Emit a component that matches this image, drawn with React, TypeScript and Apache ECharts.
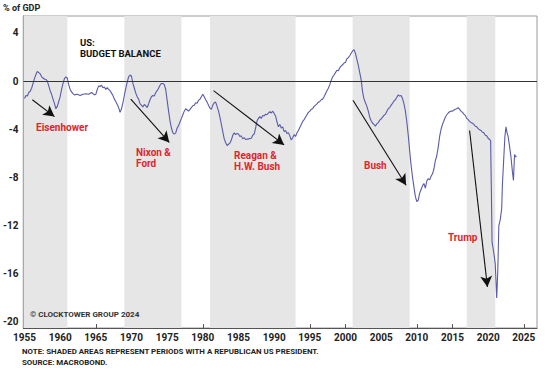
import React, { useEffect, useRef } from "react";
import * as echarts from "echarts";

const balance: [number, number][] = [
  [1955.0, -1.45], [1955.2, -1.2], [1955.4, -1.25], [1955.6, -0.95], [1955.8, -0.85],
  [1956.0, -0.6], [1956.2, -0.2], [1956.4, 0.2], [1956.6, 0.55], [1956.8, 0.8],
  [1957.0, 0.7], [1957.2, 0.6], [1957.4, 0.35], [1957.6, 0.25], [1957.8, 0.15],
  [1958.0, 0.15], [1958.2, 0.0], [1958.4, -0.4], [1958.6, -0.8], [1958.8, -1.1],
  [1959.0, -1.5], [1959.2, -1.85], [1959.4, -2.3], [1959.6, -2.1], [1959.8, -1.7],
  [1960.0, -1.3], [1960.2, -0.7], [1960.4, -0.2], [1960.6, 0.2], [1960.8, 0.35],
  [1961.0, 0.25], [1961.2, -0.3], [1961.4, -0.7], [1961.6, -0.9], [1961.8, -1.05],
  [1962.0, -1.15], [1962.4, -1.1], [1962.8, -1.2], [1963.2, -1.1], [1963.6, -1.05],
  [1964.0, -1.1], [1964.4, -0.95], [1964.8, -1.15], [1965.0, -1.1], [1965.2, -0.7],
  [1965.4, -0.4], [1965.6, -0.45], [1965.8, -0.35], [1966.0, -0.55], [1966.2, -0.5],
  [1966.4, -0.7], [1966.6, -0.55], [1966.8, -0.7], [1967.0, -0.8], [1967.2, -1.0],
  [1967.4, -1.2], [1967.6, -1.5], [1967.8, -1.7], [1968.0, -1.95], [1968.2, -2.2],
  [1968.4, -2.6], [1968.6, -2.3], [1968.8, -1.8], [1969.0, -1.2], [1969.2, -0.6],
  [1969.4, -0.1], [1969.6, 0.35], [1969.8, 0.5], [1970.0, 0.4], [1970.2, -0.2],
  [1970.4, -0.6], [1970.6, -1.0], [1970.8, -1.3], [1971.0, -1.5], [1971.2, -1.9],
  [1971.4, -2.0], [1971.6, -2.15], [1971.8, -1.95], [1972.0, -2.05], [1972.2, -2.2],
  [1972.4, -1.9], [1972.6, -1.55], [1972.8, -1.3], [1973.0, -1.2], [1973.2, -1.25],
  [1973.4, -0.95], [1973.6, -0.8], [1973.8, -0.6], [1974.0, -0.35], [1974.2, -0.2],
  [1974.4, -0.2], [1974.6, -0.3], [1974.8, -0.7], [1975.0, -1.6], [1975.2, -2.5],
  [1975.4, -3.3], [1975.6, -3.9], [1975.8, -4.3], [1976.0, -4.4], [1976.2, -4.3],
  [1976.4, -3.9], [1976.6, -3.7], [1976.8, -3.4], [1977.0, -3.1], [1977.2, -2.8],
  [1977.4, -2.5], [1977.6, -2.3], [1977.8, -2.4], [1978.0, -2.5], [1978.2, -2.35],
  [1978.4, -2.2], [1978.6, -2.05], [1978.8, -2.0], [1979.0, -1.8], [1979.2, -1.85],
  [1979.4, -1.6], [1979.6, -1.5], [1979.8, -1.3], [1980.0, -1.1], [1980.2, -1.3],
  [1980.4, -1.55], [1980.6, -1.75], [1980.8, -2.0], [1981.0, -2.25], [1981.2, -2.35],
  [1981.4, -2.0], [1981.6, -1.8], [1981.8, -1.75], [1982.0, -2.1], [1982.2, -2.5],
  [1982.4, -3.0], [1982.6, -3.6], [1982.8, -4.2], [1983.0, -4.8], [1983.2, -5.1],
  [1983.4, -5.35], [1983.6, -5.25], [1983.8, -5.15], [1984.0, -4.9], [1984.2, -4.5],
  [1984.4, -4.3], [1984.6, -4.45], [1984.8, -4.35], [1985.0, -4.4], [1985.2, -4.6],
  [1985.4, -4.55], [1985.6, -4.8], [1985.8, -4.7], [1986.0, -4.85], [1986.4, -4.8],
  [1986.8, -4.75], [1987.0, -4.5], [1987.2, -4.4], [1987.4, -3.9], [1987.6, -3.3],
  [1987.8, -3.1], [1988.0, -2.95], [1988.2, -3.1], [1988.4, -2.85], [1988.6, -2.9],
  [1988.8, -2.75], [1989.0, -2.8], [1989.2, -2.65], [1989.4, -2.55], [1989.6, -2.65],
  [1989.8, -2.5], [1990.0, -2.7], [1990.2, -2.9], [1990.4, -3.4], [1990.6, -3.8],
  [1990.8, -3.6], [1991.0, -3.9], [1991.2, -3.8], [1991.4, -4.2], [1991.6, -4.1],
  [1991.8, -4.35], [1992.0, -4.3], [1992.2, -4.55], [1992.4, -4.9], [1992.6, -4.7],
  [1992.8, -4.45], [1993.0, -4.6], [1993.2, -4.3], [1993.4, -4.1], [1993.6, -3.85],
  [1993.8, -3.6], [1994.0, -3.35], [1994.2, -3.2], [1994.4, -3.0], [1994.6, -2.8],
  [1994.8, -2.6], [1995.0, -2.5], [1995.2, -2.35], [1995.4, -2.3], [1995.6, -2.1],
  [1995.8, -2.0], [1996.0, -1.9], [1996.2, -1.75], [1996.4, -1.7], [1996.6, -1.55],
  [1996.8, -1.5], [1997.0, -1.3], [1997.2, -1.05], [1997.4, -0.8], [1997.6, -0.6],
  [1997.8, -0.3], [1998.0, 0.05], [1998.2, 0.35], [1998.4, 0.5], [1998.6, 0.7],
  [1998.8, 0.9], [1999.0, 0.85], [1999.2, 1.1], [1999.4, 1.25], [1999.6, 1.35],
  [1999.8, 1.5], [2000.0, 1.55], [2000.2, 1.85], [2000.4, 1.95], [2000.6, 2.1],
  [2000.8, 2.3], [2001.0, 2.5], [2001.2, 2.6], [2001.4, 2.3], [2001.6, 1.8],
  [2001.8, 1.3], [2002.0, 0.7], [2002.2, 0.1], [2002.4, -0.9], [2002.6, -1.5],
  [2002.8, -1.8], [2003.0, -2.1], [2003.2, -2.5], [2003.4, -3.0], [2003.6, -3.3],
  [2003.8, -3.5], [2004.0, -3.6], [2004.2, -3.75], [2004.4, -3.55], [2004.6, -3.45],
  [2004.8, -3.25], [2005.0, -3.15], [2005.2, -3.0], [2005.4, -2.85], [2005.6, -2.75],
  [2005.8, -2.5], [2006.0, -2.3], [2006.2, -2.2], [2006.4, -2.0], [2006.6, -1.85],
  [2006.8, -1.65], [2007.0, -1.55], [2007.2, -1.35], [2007.4, -1.15], [2007.6, -1.25],
  [2007.8, -1.2], [2008.0, -1.45], [2008.2, -1.9], [2008.4, -2.5], [2008.6, -3.4],
  [2008.8, -4.5], [2009.0, -5.8], [2009.2, -7.0], [2009.4, -8.0], [2009.6, -8.8],
  [2009.8, -9.6], [2010.0, -10.0], [2010.2, -9.9], [2010.4, -9.3], [2010.6, -9.0],
  [2010.8, -8.7], [2011.0, -8.5], [2011.2, -8.9], [2011.4, -8.3], [2011.6, -8.1],
  [2011.8, -8.2], [2012.0, -7.9], [2012.2, -7.7], [2012.4, -7.3], [2012.6, -6.6],
  [2012.8, -6.2], [2013.0, -5.5], [2013.2, -4.6], [2013.4, -4.0], [2013.6, -3.6],
  [2013.8, -3.3], [2014.0, -3.0], [2014.2, -2.8], [2014.4, -2.65], [2014.6, -2.55],
  [2014.8, -2.5], [2015.0, -2.5], [2015.2, -2.4], [2015.4, -2.35], [2015.6, -2.3],
  [2015.8, -2.2], [2016.0, -2.35], [2016.2, -2.5], [2016.4, -2.6], [2016.6, -2.75],
  [2016.8, -2.85], [2017.0, -3.1], [2017.2, -3.2], [2017.4, -3.35], [2017.6, -3.45],
  [2017.8, -3.5], [2018.0, -3.6], [2018.2, -3.75], [2018.4, -3.8], [2018.6, -3.95],
  [2018.8, -4.05], [2019.0, -4.1], [2019.2, -4.25], [2019.4, -4.3], [2019.6, -4.5],
  [2019.8, -4.55], [2020.0, -4.75], [2020.2, -4.85], [2020.35, -4.95], [2020.45, -9.0],
  [2020.55, -13.4], [2020.7, -13.9], [2020.85, -14.5], [2021.0, -15.2], [2021.2, -18.0],
  [2021.35, -15.8], [2021.5, -12.0], [2021.7, -11.5], [2021.9, -10.6], [2022.0, -8.6],
  [2022.2, -6.3], [2022.35, -4.6], [2022.5, -3.8], [2022.65, -4.3], [2022.8, -4.6],
  [2023.0, -5.4], [2023.2, -6.3], [2023.4, -7.5], [2023.55, -8.25], [2023.7, -6.1],
  [2023.85, -6.3], [2023.95, -6.2],
];

// Republican presidencies [start, end]
const republicanTerms: [number, number][] = [
  [1953, 1961], [1969, 1977], [1981, 1993], [2001, 2009], [2017, 2021],
];

const xTicks = [1955, 1960, 1965, 1970, 1975, 1980, 1985, 1990, 1995, 2000, 2005, 2010, 2015, 2020, 2025];
const yTicks = [-20, -16, -12, -8, -4, 0, 4];

// Arrows: [fromX, fromY, toX, toY]
const arrows: [number, number, number, number][] = [
  [1956.1, -1.55, 1959.2, -2.95],
  [1969.9, -1.5, 1975.3, -5.1],
  [1981.5, -0.8, 1991.4, -5.3],
  [2001.05, -1.6, 2008.5, -8.65],
  [2017.4, -4.1, 2019.9, -17.1],
];

const X_MIN = 1954.85;
const X_MAX = 2026.85;

const FONT = "Roboto, 'Noto Sans', sans-serif";
const RED = "#e0262d";

export default function App() {
  const ref = useRef<HTMLDivElement>(null);
  useEffect(() => {
    if (!ref.current) return;
    const chart = echarts.init(ref.current, undefined, { renderer: "svg" });
    const txt = (text: string, x: number, y: number, fill: string, font: string) => ({
      type: "text",
      left: x,
      top: y,
      z: 100,
      style: { text, fill, font },
    });
    const redText = (text: string, x: number, y: number) => txt(text, x, y, RED, `bold 10px ${FONT}`);
    chart.setOption({
      animation: false,
      backgroundColor: "#ffffff",
      grid: { left: 22, right: 13, top: 16, bottom: 45, show: true, borderColor: "#9a9a9a", borderWidth: 1 },
      xAxis: {
        type: "value",
        min: X_MIN,
        max: X_MAX,
        axisLine: { show: true, onZero: false, lineStyle: { color: "#555", width: 1.2 } },
        axisTick: { show: true, inside: true, length: 4, customValues: xTicks, lineStyle: { color: "#555" } },
        axisLabel: {
          customValues: xTicks,
          formatter: (v: number) => String(Math.round(v)),
          color: "#222",
          fontFamily: FONT,
          fontWeight: "bold",
          fontSize: 10,
          margin: 4,
        },
        splitLine: { show: false },
      },
      yAxis: {
        type: "value",
        min: -20.5,
        max: 5.4,
        axisLine: { show: true, lineStyle: { color: "#555", width: 1.2 } },
        axisTick: { show: true, inside: true, length: 3, customValues: yTicks, lineStyle: { color: "#555" } },
        axisLabel: {
          customValues: yTicks,
          formatter: (v: number) => String(Math.round(v)),
          color: "#222",
          fontFamily: FONT,
          fontWeight: "bold",
          fontSize: 10,
          margin: 5,
        },
        splitLine: { show: false },
      },
      series: [
        {
          type: "line",
          data: balance,
          showSymbol: false,
          symbol: "none",
          lineStyle: { color: "#5a5aaa", width: 1.1 },
          z: 3,
          markArea: {
            silent: true,
            itemStyle: { color: "#e6e6e6" },
            data: republicanTerms.map(([a, b]) => [
              { xAxis: Math.max(a, X_MIN), yAxis: 5.4 },
              { xAxis: b, yAxis: -20.5 },
            ]),
          },
          markLine: {
            silent: true,
            animation: false,
            label: { show: false },
            lineStyle: { color: "#111", width: 1.1, type: "solid" },
            symbolSize: [9, 11],
            data: [
              [
                { coord: [X_MIN, 0], symbol: "none", lineStyle: { color: "#333", width: 1 } },
                { coord: [X_MAX, 0], symbol: "none" },
              ],
              ...arrows.map(([x1, y1, x2, y2]) => [
                { coord: [x1, y1], symbol: "none" },
                { coord: [x2, y2], symbol: "arrow" },
              ]),
            ],
          },
        },
      ],
      graphic: [
        txt("% of GDP", 3, 3, "#222", `bold 9px ${FONT}`),
        txt("US:", 80, 37, "#111", `bold 9.5px ${FONT}`),
        txt("BUDGET BALANCE", 80, 48, "#111", `bold 9.5px ${FONT}`),
        redText("Eisenhower", 36, 122),
        redText("Nixon &", 136, 147),
        redText("Ford", 136, 158),
        redText("Reagan &", 234, 150),
        redText("H.W. Bush", 234, 161),
        redText("Bush", 364, 160),
        redText("Trump", 448, 232),
        txt("© CLOCKTOWER GROUP 2024", 30, 310, "#333", `bold 8px ${FONT}`),
        txt("NOTE: SHADED AREAS REPRESENT PERIODS WITH A REPUBLICAN US PRESIDENT.", 22, 347, "#222", `bold 7.9px ${FONT}`),
        txt("SOURCE: MACROBOND.", 22, 358, "#222", `bold 7.9px ${FONT}`),
      ],
    });
    return () => chart.dispose();
  }, []);
  return <div ref={ref} style={{ width: 550, height: 373, position: "absolute", left: 0, top: 0 }} />;
}
